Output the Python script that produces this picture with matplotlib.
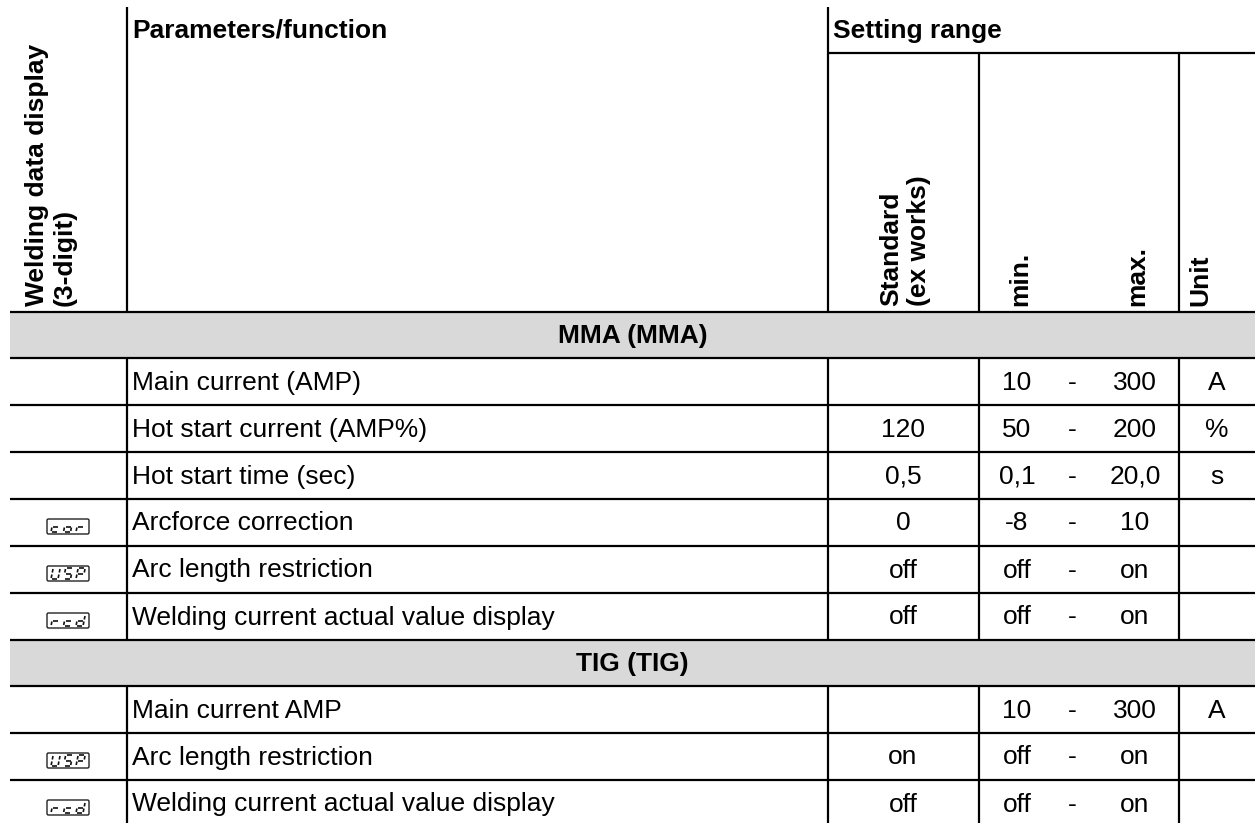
import matplotlib.pyplot as plt
from matplotlib.patches import Rectangle, FancyBboxPatch

plt.rcParams["font.family"] = ["Liberation Sans", "DejaVu Sans"]

# table content
mma_params = ["Main current (AMP)", "Hot start current (AMP%)", "Hot start time (sec)",
              "Arcforce correction", "Arc length restriction",
              "Welding current actual value display"]
mma_codes = ["", "", "", "cor", "USP", "rcd"]
mma_std = ["", "120", "0,5", "0", "off", "off"]
mma_min = ["10", "50", "0,1", "-8", "off", "off"]
mma_max = ["300", "200", "20,0", "10", "on", "on"]
mma_unit = ["A", "%", "s", "", "", ""]

tig_params = ["Main current AMP", "Arc length restriction",
              "Welding current actual value display"]
tig_codes = ["", "USP", "rcd"]
tig_std = ["", "on", "off"]
tig_min = ["10", "off", "off"]
tig_max = ["300", "on", "on"]
tig_unit = ["A", "", ""]

sections = [
    ("MMA (MMA)", mma_params, mma_codes, mma_std, mma_min, mma_max, mma_unit),
    ("TIG (TIG)", tig_params, tig_codes, tig_std, tig_min, tig_max, tig_unit),
]

# layout in pixel units
W, H = 1258, 823
x_left, x_right = 10, 1255
x_code, x_std, x_min, x_unit = 127, 828, 979, 1179
y_top, y_sub, y_head = 7, 53, 312
band_h, row_h = 46, 47
FS = 19
LW = 1.6

fig = plt.figure(figsize=(W / 100, H / 100), dpi=100)
ax = fig.add_axes([0, 0, 1, 1])
ax.set_xlim(0, W)
ax.set_ylim(H, 0)
ax.axis("off")

# seven segment glyphs (segments a..g)
SEGS = {
    "c": "ged", "o": "gcde", "r": "ge",
    "U": "bcdef", "S": "afgcd", "P": "abfge", "d": "bcdeg",
}


def seven_seg(ax, text, cx, cy):
    box = FancyBboxPatch((cx - 21, cy - 7.5), 42, 15,
                         boxstyle="round,pad=0,rounding_size=1.5",
                         fc="none", ec="#222222", lw=1.0)
    ax.add_patch(box)
    cw, ch, sl, gap = 7.0, 11.0, 0.2, 1.0
    pitch = 12.5
    for i, chr_ in enumerate(text):
        xl = cx - pitch + i * pitch - cw / 2 - 1
        yb, yt, ym = cy + ch / 2, cy - ch / 2, cy

        def pt(x, y):
            return (x + sl * (yb - y), y)

        L, R = xl, xl + cw
        seg_pts = {
            "a": (pt(L + gap, yt), pt(R - gap, yt)),
            "b": (pt(R, yt + gap), pt(R, ym - gap)),
            "c": (pt(R, ym + gap), pt(R, yb - gap)),
            "d": (pt(L + gap, yb), pt(R - gap, yb)),
            "e": (pt(L, ym + gap), pt(L, yb - gap)),
            "f": (pt(L, yt + gap), pt(L, ym - gap)),
            "g": (pt(L + gap, ym), pt(R - gap, ym)),
        }
        for s in SEGS[chr_]:
            (x0, y0), (x1, y1) = seg_pts[s]
            ax.plot([x0, x1], [y0, y1], color="#111111", lw=1.2,
                    solid_capstyle="butt")


def hline(y, x0=x_left, x1=x_right):
    ax.plot([x0, x1], [y, y], color="black", lw=LW, solid_capstyle="butt")


def vline(x, y0, y1):
    ax.plot([x, x], [y0, y1], color="black", lw=LW, solid_capstyle="butt")


# header
ax.text(132, 30, "Parameters/function", fontsize=FS, fontweight="bold",
        ha="left", va="center")
ax.text(833, 31, "Setting range", fontsize=FS, fontweight="bold",
        ha="left", va="center")
hline(y_sub, x_std, x_right)
vline(x_code, y_top, y_head)
vline(x_std, y_top, y_head)
vline(x_min, y_sub, y_head)
vline(x_unit, y_sub, y_head)

rot_kw = dict(fontsize=FS, fontweight="bold", rotation=90, ha="center",
              va="bottom", multialignment="left")
ax.text(51, 306, "Welding data display\n(3-digit)", **rot_kw)
ax.text(905, 306, "Standard\n(ex works)", **rot_kw)
ax.text(1020, 306, "min.", **rot_kw)
ax.text(1137, 306, "max.", **rot_kw)
ax.text(1200, 306, "Unit", **rot_kw)
hline(y_head)

# body
y = y_head
for title, params, codes, std, mins, maxs, units in sections:
    ax.add_patch(Rectangle((x_left, y), x_right - x_left, band_h,
                           fc="#d9d9d9", ec="none", zorder=0))
    ax.text((x_left + x_right) / 2, y + band_h / 2 + 1, title, fontsize=FS,
            fontweight="bold", ha="center", va="center")
    y += band_h
    hline(y)
    for i, p in enumerate(params):
        y0, y1 = y, y + row_h
        yc = (y0 + y1) / 2 + 1
        for xv in (x_code, x_std, x_min, x_unit):
            vline(xv, y0, y1)
        if codes[i]:
            seven_seg(ax, codes[i], 68, yc + 3)
        ax.text(132, yc, p, fontsize=FS, ha="left", va="center")
        ax.text(903, yc, std[i], fontsize=FS, ha="center", va="center")
        ax.text(1017, yc, mins[i], fontsize=FS, ha="center", va="center")
        ax.text(1072, yc, "-", fontsize=FS, ha="center", va="center")
        ax.text(1135, yc, maxs[i], fontsize=FS, ha="center", va="center")
        ax.text(1217, yc, units[i], fontsize=FS, ha="center", va="center")
        y = y1
        hline(y)

fig.savefig("out.png", dpi=100)
